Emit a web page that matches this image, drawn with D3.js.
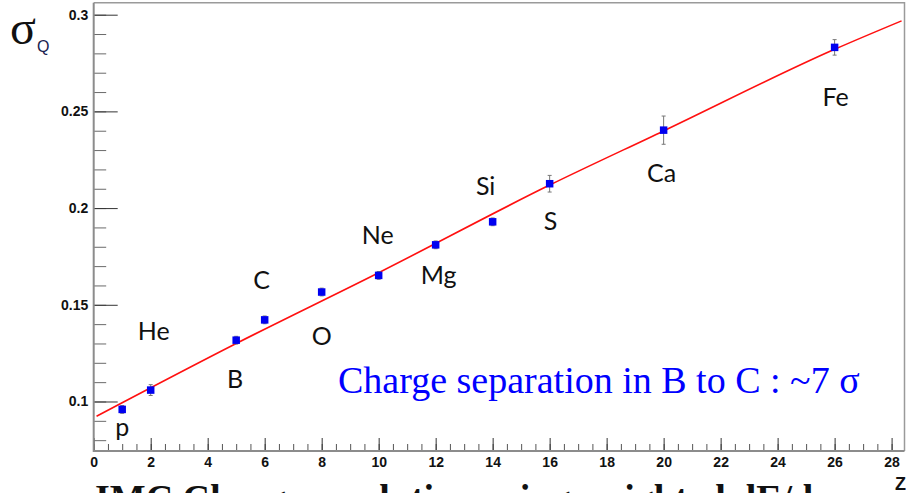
<!DOCTYPE html>
<html>
<head>
<meta charset="utf-8">
<script src="https://cdn.jsdelivr.net/npm/d3@7"></script>
<style>
  html, body { margin: 0; padding: 0; background: #fff; overflow: hidden; }
  svg { display: block; }
</style>
</head>
<body>
<svg id="chart" width="906" height="493"></svg>
<script>
// measured charge resolution per element
const charges = [1, 2, 5, 6, 8, 10, 12, 14, 16, 20, 26];
const elements = ["p", "He", "B", "C", "O", "Ne", "Mg", "Si", "S", "Ca", "Fe"];
const sigmaQ = [0.0959, 0.1059, 0.1317, 0.1422, 0.1566, 0.1652, 0.1810, 0.1929, 0.2126, 0.2403, 0.2831];
const sigmaErr = [0.0020, 0.0028, 0.0020, 0.0020, 0.0020, 0.0020, 0.0020, 0.0020, 0.0043, 0.0073, 0.0040];

// fit curve
const fitZ = [0.1, 5, 10, 16, 20, 26, 28.35];
const fitSigma = [0.0924, 0.1300, 0.1666, 0.2119, 0.2399, 0.2821, 0.2968];

const xMajorTicks = d3.range(0, 29, 2);
const xMinorTicks = d3.range(0, 28.5, 0.5);
const yMajorTicks = [0.1, 0.15, 0.2, 0.25, 0.3];
const yMinorTicks = [0.08, 0.09, 0.1, 0.11, 0.12, 0.13, 0.14, 0.15, 0.16, 0.17, 0.18, 0.19, 0.2,
  0.21, 0.22, 0.23, 0.24, 0.25, 0.26, 0.27, 0.28, 0.29, 0.3];

const annotation = "Charge separation in B to C : ~7 σ";
const caption = "IMC Charge resolution using weighted dE/dx";

// label offsets (px) from each marker
const labelOffsets = [[0, 27], [3, -50], [-1, 48], [-3, -31], [0, 53], [-1, -31],
  [3, 39], [-7, -27], [1, 46], [-2, 52], [1, 59]];

const svg = d3.select("#chart");
const frame = { left: 93.7, right: 904.5, top: 2.7, bottom: 451 };

const x = d3.scaleLinear().domain([0, 28.47]).range([frame.left, 905]);
const y = d3.scaleLinear().domain([0.0744, 0.3062]).range([frame.bottom, frame.top]);

const tickFont = "'Liberation Sans', Arial, sans-serif";

// slide caption, cut by the bottom edge (drawn first so the axis sits on top)
svg.append("text")
  .attr("x", 95)
  .attr("y", 511)
  .attr("font-family", "'Liberation Serif', 'Times New Roman', serif")
  .attr("font-weight", "bold")
  .attr("font-size", 38)
  .attr("fill", "#111")
  .text(caption);

// frame (top + right)
svg.append("path")
  .attr("d", `M${frame.left},${frame.top}H${frame.right}V${frame.bottom}`)
  .attr("fill", "none")
  .attr("stroke", "#9a9a9a")
  .attr("stroke-width", 1.5);

// y minor ticks
svg.append("g")
  .attr("transform", `translate(${frame.left},0)`)
  .call(d3.axisLeft(y).tickValues(yMinorTicks).tickSize(-12.5).tickFormat(""))
  .call((g) => g.select(".domain").remove())
  .call((g) => g.selectAll("line").attr("stroke", "#6a6a6a"));

// y major ticks
svg.append("g")
  .attr("transform", `translate(${frame.left},0)`)
  .call(d3.axisLeft(y).tickValues(yMajorTicks).tickSize(-24).tickPadding(5.5).tickFormat(d3.format("~g")))
  .call((g) => g.select(".domain").remove())
  .call((g) => g.selectAll("line").attr("stroke", "#333"))
  .call((g) => g.selectAll("text")
    .attr("font-family", tickFont)
    .attr("font-weight", "bold")
    .attr("font-size", 14)
    .attr("fill", "#111"));

// x minor ticks
svg.append("g")
  .attr("transform", `translate(0,${frame.bottom})`)
  .call(d3.axisBottom(x).tickValues(xMinorTicks).tickSize(-7).tickFormat(""))
  .call((g) => g.select(".domain").remove())
  .call((g) => g.selectAll("line").attr("stroke", "#555"));

// x major ticks
svg.append("g")
  .attr("transform", `translate(0,${frame.bottom})`)
  .call(d3.axisBottom(x).tickValues(xMajorTicks).tickSize(-13).tickPadding(6).tickFormat(d3.format("d")))
  .call((g) => g.select(".domain").remove())
  .call((g) => g.selectAll("line").attr("stroke", "#333"))
  .call((g) => g.selectAll("text")
    .attr("font-family", tickFont)
    .attr("font-weight", "bold")
    .attr("font-size", 14)
    .attr("fill", "#111"));

// axis lines
svg.append("path")
  .attr("d", `M${frame.left},${frame.top}V${frame.bottom}H${frame.right}`)
  .attr("fill", "none")
  .attr("stroke", "#8c8c8c")
  .attr("stroke-width", 2);

// fit line
const fitLine = d3.line()
  .curve(d3.curveMonotoneX)
  .x((d) => x(d[0]))
  .y((d) => y(d[1]));

svg.append("path")
  .datum(fitZ.map((z, i) => [z, fitSigma[i]]))
  .attr("d", fitLine)
  .attr("fill", "none")
  .attr("stroke", "#ff1010")
  .attr("stroke-width", 1.6);

const points = charges.map((z, i) => ({
  z,
  name: elements[i],
  sigma: sigmaQ[i],
  err: sigmaErr[i],
  dx: labelOffsets[i][0],
  dy: labelOffsets[i][1],
}));

// error bars
const bars = svg.append("g").attr("stroke", "#777").attr("stroke-width", 1);
bars.selectAll("line.err")
  .data(points)
  .join("line")
  .attr("class", "err")
  .attr("x1", (d) => x(d.z))
  .attr("x2", (d) => x(d.z))
  .attr("y1", (d) => y(d.sigma - d.err))
  .attr("y2", (d) => y(d.sigma + d.err));
bars.selectAll("path.cap")
  .data(points)
  .join("path")
  .attr("class", "cap")
  .attr("fill", "none")
  .attr("d", (d) => `M${x(d.z) - 2},${y(d.sigma - d.err)}h4M${x(d.z) - 2},${y(d.sigma + d.err)}h4`);

// markers
svg.append("g")
  .selectAll("rect")
  .data(points)
  .join("rect")
  .attr("x", (d) => x(d.z) - 3.75)
  .attr("y", (d) => y(d.sigma) - 3.75)
  .attr("width", 7.5)
  .attr("height", 7.5)
  .attr("fill", "#0000f0");

// element names
svg.append("g")
  .selectAll("text")
  .data(points)
  .join("text")
  .attr("x", (d) => x(d.z) + d.dx)
  .attr("y", (d) => y(d.sigma) + d.dy)
  .attr("text-anchor", "middle")
  .attr("font-family", "Lato, 'Open Sans', sans-serif")
  .attr("font-size", 25)
  .attr("fill", "#111")
  .text((d) => d.name);

// y title
const yTitle = svg.append("text")
  .attr("x", 10)
  .attr("y", 44)
  .attr("font-family", "'Liberation Serif', 'Times New Roman', serif")
  .attr("font-size", 48)
  .attr("fill", "#111");
yTitle.append("tspan").text("σ");
yTitle.append("tspan")
  .attr("font-family", tickFont)
  .attr("font-size", 16)
  .attr("dx", 1)
  .attr("dy", 8)
  .attr("fill", "#1a2350")
  .text("Q");

// x title
svg.append("rect")
  .attr("x", 892)
  .attr("y", 474)
  .attr("width", 14)
  .attr("height", 19)
  .attr("fill", "#fff");
svg.append("text")
  .attr("x", 906)
  .attr("y", 490)
  .attr("text-anchor", "end")
  .attr("font-family", tickFont)
  .attr("font-weight", "bold")
  .attr("font-size", 18)
  .attr("fill", "#111")
  .text("Z");

// annotation
svg.append("text")
  .attr("x", 338)
  .attr("y", 393)
  .attr("font-family", "'Liberation Serif', 'Times New Roman', serif")
  .attr("font-size", 38)
  .attr("fill", "#0000ff")
  .text(annotation);
</script>
</body>
</html>
